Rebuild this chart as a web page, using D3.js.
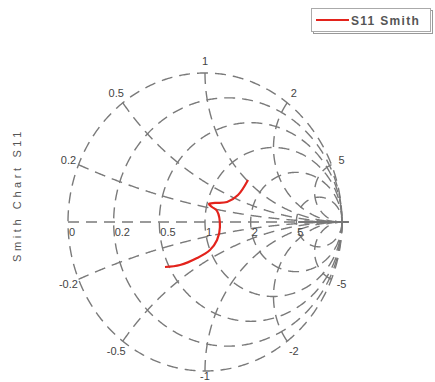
<!DOCTYPE html>
<html><head><meta charset="utf-8">
<script src="https://cdn.jsdelivr.net/npm/d3@7"></script>
<style>body{margin:0;background:#fff}svg{display:block}</style>
</head><body>
<svg id="c" width="435" height="382"></svg>
<script>
// Grid values (normalized resistance / reactance)
const resistanceValues = [0.2, 0.5, 1, 2, 5];
const reactanceValues = [0.2, 0.5, 1, 2, 5];
const axisLabels = ["0", "0.2", "0.5", "1", "2", "5"];
const axisLabelValues = [0, 0.2, 0.5, 1, 2, 5];
// S11 reflection coefficient trace (real, imaginary)
const s11Re = [0.314, 0.241, 0.161, 0.073, 0.029, 0.051, 0.088, 0.109, 0.088, 0.036, -0.058, -0.182, -0.292];
const s11Im = [0.282, 0.181, 0.134, 0.128, 0.121, 0.101, 0.074, -0.034, -0.121, -0.188, -0.242, -0.289, -0.302];
const seriesName = "S11 Smith";
const yLabel = "Smith Chart S11";

const svg = d3.select("#c");
const xs = d3.scaleLinear().domain([-1, 1]).range([68, 342]);
const ys = d3.scaleLinear().domain([-1, 1]).range([371, 73]);
const line = d3.line().x(d => xs(d[0])).y(d => ys(d[1]));
const gridColor = "#7a7a7a";
const font = "Liberation Sans, Arial, sans-serif";

function gamma(zr, zi) {
  const ar = zr - 1, ai = zi, br = zr + 1, bi = zi;
  const den = br * br + bi * bi;
  return [(ar * br + ai * bi) / den, (ai * br - ar * bi) / den];
}
const thetas = d3.range(-Math.PI / 2 + 0.0005, Math.PI / 2, 0.005);
const tPos = d3.range(0, Math.PI / 2, 0.004).map(a => Math.tan(a));

const g = svg.append("g");
function grid(pts) {
  g.append("path").attr("d", line(pts)).attr("fill", "none")
    .attr("stroke", gridColor).attr("stroke-width", 1.4)
    .attr("stroke-dasharray", "11,7");
}
[0].concat(resistanceValues).forEach(r => {
  grid(thetas.map(t => gamma(r, Math.tan(t))));
});
reactanceValues.forEach(x => {
  grid(tPos.map(t => gamma(t, x)));
  grid(tPos.map(t => gamma(t, -x)));
});
grid([[-1, 0], [1.05, 0]]);
g.append("path").attr("d", line([[0.68, 0], [1.05, 0]])).attr("fill", "none")
  .attr("stroke", "#777").attr("stroke-width", 1.8);

const lab = svg.append("g").attr("font-family", font)
  .attr("font-size", 11).attr("fill", "#444");
axisLabelValues.forEach((r, i) => {
  const p = gamma(r, 0);
  lab.append("text").attr("x", xs(p[0]) + 1).attr("y", ys(0) + 14).text(axisLabels[i]);
});
reactanceValues.forEach(x => {
  [x, -x].forEach(v => {
    const p = gamma(0, v);
    const yy = Math.min(ys(p[1] * 1.08), 376);
    lab.append("text").attr("x", xs(p[0] * 1.08)).attr("y", yy)
      .attr("dy", "0.35em").attr("text-anchor", "middle")
      .text(v < 0 ? "-" + x : String(x));
  });
});

const data = s11Re.map((r, i) => [r, s11Im[i]]);
svg.append("path").attr("d", d3.line().curve(d3.curveCatmullRom)
    .x(d => xs(d[0])).y(d => ys(d[1]))(data))
  .attr("fill", "none").attr("stroke", "#e3231c").attr("stroke-width", 2.2);

svg.append("text").attr("transform", "translate(21,195) rotate(-90)")
  .attr("text-anchor", "middle").attr("font-family", font)
  .attr("font-size", 11).attr("letter-spacing", 3.6).attr("fill", "#555").text(yLabel);

const lg = svg.append("g");
lg.append("rect").attr("x", 313.5).attr("y", 10.5).attr("width", 119).attr("height", 23)
  .attr("fill", "#fff").attr("stroke", "#999").attr("stroke-width", 1);
lg.append("rect").attr("x", 311.5).attr("y", 8.5).attr("width", 119).attr("height", 23)
  .attr("fill", "#fff").attr("stroke", "#aaa").attr("stroke-width", 1);
lg.append("line").attr("x1", 316).attr("x2", 349).attr("y1", 20).attr("y2", 20)
  .attr("stroke", "#e3231c").attr("stroke-width", 2);
lg.append("text").attr("x", 351).attr("y", 24.5).attr("font-family", font)
  .attr("font-size", 12).attr("font-weight", "bold").attr("letter-spacing", 1.3)
  .attr("fill", "#555").text(seriesName);
</script>
</body></html>
